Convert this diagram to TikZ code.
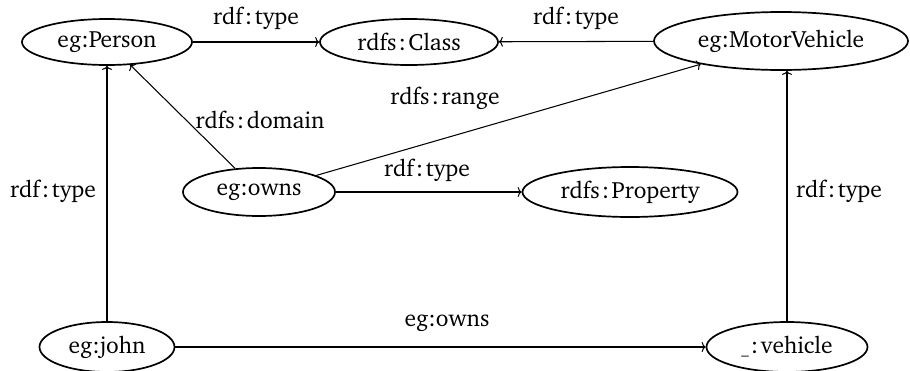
\documentclass[tikz,border=0pt]{standalone}
\usepackage[T1]{fontenc}
\usepackage{charter}
\usetikzlibrary{arrows.meta,shapes.geometric}
\tikzset{
  res/.style={ellipse, draw, line width=1.7pt, inner sep=0pt, font=\fontsize{23.5}{27}\selectfont},
  lbl/.style={font=\fontsize{23.5}{27}\selectfont, inner sep=0pt},
  edge/.style={line width=1.05pt, -{To[length=4pt,width=10pt]}},
}
\newcommand{\rc}{\kern2pt:\kern2.5pt}
\begin{document}
\begin{tikzpicture}[x=1pt,y=-1pt]
\useasboundingbox (0,0) rectangle (910,370);
\node[res, minimum width=170pt, minimum height=46pt] (person) at (107,42) {eg:Person};
\node[res, minimum width=178pt, minimum height=46pt] (class) at (409,42) {rdfs\rc Class};
\node[res, minimum width=254pt, minimum height=58pt] (motor) at (781,41) {eg:MotorVehicle};
\node[res, minimum width=152pt, minimum height=48pt] (owns) at (259,192) {eg:owns};
\node[res, minimum width=215pt, minimum height=50pt] (prop) at (630,192) {rdfs\rc Property};
\node[res, minimum width=135pt, minimum height=50pt] (john) at (107,347) {eg:john};
\node[res, minimum width=161pt, minimum height=50pt] (veh) at (787,347) {{\fontsize{15}{15}\selectfont\_}\rc vehicle};

\draw[edge] (person) -- (class);
\draw[edge] (motor) -- (class);
\draw[edge] (owns) -- (person);
\draw[edge] (owns) -- (motor);
\draw[edge] (owns) -- (prop);
\draw[edge] (john) -- (person);
\draw[edge] (veh) -- (motor.south -| veh);
\draw[edge] (john) -- (veh);

\node[lbl] (l1) at (256,18) {rdf\rc type};
\node[lbl] (l2) at (576,18) {rdf\rc type};
\node[lbl] (l3) at (445,98) {rdfs\rc range};
\node[lbl] (l4) at (260,120) {rdfs\rc domain};
\node[lbl] (l5) at (427,170) {rdf\rc type};
\node[lbl] (l6) at (53,191) {rdf\rc type};
\node[lbl] (l7) at (839,191) {rdf\rc type};
\node[lbl] (l8) at (447,323) {eg:owns};
\end{tikzpicture}
\end{document}
